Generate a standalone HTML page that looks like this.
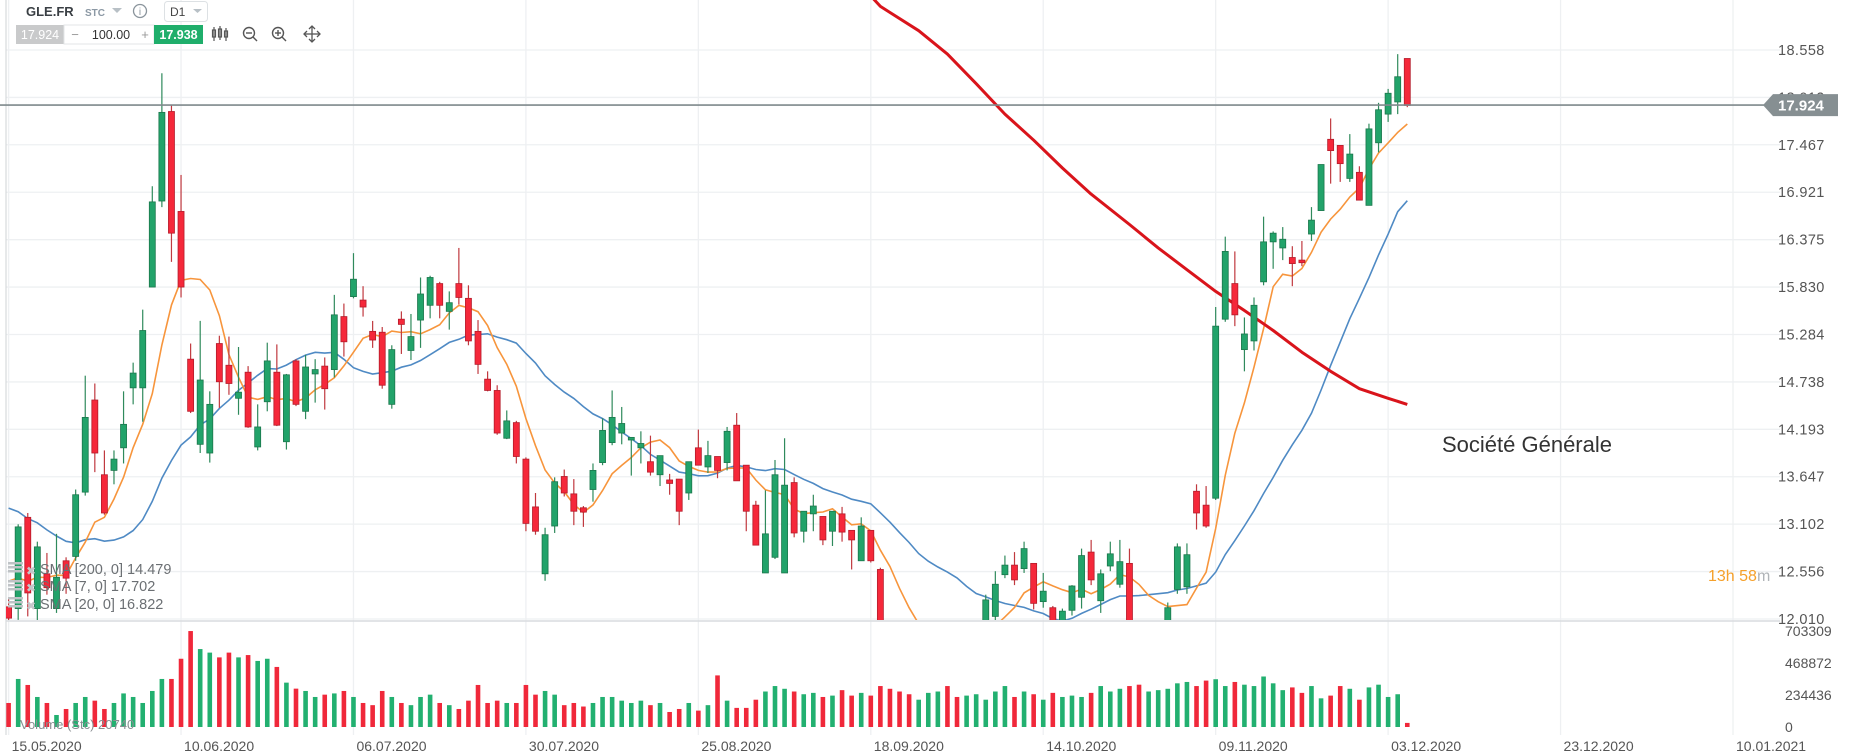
<!DOCTYPE html>
<html><head><meta charset="utf-8"><style>
html,body{margin:0;padding:0;background:#fff;width:1853px;height:756px;overflow:hidden}
svg{display:block;font-family:"Liberation Sans",sans-serif}
</style></head><body>
<svg id="c" width="1853" height="756" viewBox="0 0 1853 756">
<defs><clipPath id="pc"><rect x="6" y="0" width="1770" height="620"/></clipPath>
<clipPath id="vc"><rect x="6" y="622" width="1770" height="110"/></clipPath></defs>
<g id="grid"></g>
<line x1="6" y1="0" x2="6" y2="735" stroke="#cfd3d6"/>
<line x1="6" y1="621" x2="1780" y2="621" stroke="#d9dcdf" stroke-width="1.5"/>
<g id="vol" clip-path="url(#vc)"></g>
<g id="price" clip-path="url(#pc)"></g>
<g id="axes"></g>
<g>
 <text x="26" y="16" font-size="13" font-weight="bold" fill="#3a3f44">GLE.FR</text>
 <text x="85" y="16" font-size="10" font-weight="bold" fill="#8b98a4">STC</text>
 <path d="M112 8 L122 8 L117 13 Z" fill="#b8c0c6"/>
 <g><circle cx="140" cy="11" r="6.5" fill="none" stroke="#8a949c" stroke-width="1.3"/><text x="140" y="15" font-size="10" text-anchor="middle" fill="#8a949c">i</text></g>
 <g><rect x="164.5" y="1.5" width="43" height="20" rx="3" fill="#fff" stroke="#dde1e4"/><text x="170" y="16" font-size="12" fill="#444">D1</text><path d="M193 9 L202 9 L197.5 13 Z" fill="#b8c0c6"/></g>
 <g><rect x="16" y="25" width="48" height="19" fill="#c9cacb"/><text x="40" y="39" font-size="12.5" text-anchor="middle" fill="#fff">17.924</text></g>
 <g><rect x="64" y="25" width="90" height="19" fill="#fff" stroke="#e3e5e7"/><text x="75" y="39" font-size="13" text-anchor="middle" fill="#999">−</text><text x="111" y="39" font-size="12.5" text-anchor="middle" fill="#333">100.00</text><text x="145" y="39" font-size="13" text-anchor="middle" fill="#999">+</text></g>
 <g><rect x="154" y="25" width="49" height="19" fill="#1fae6b"/><text x="178.5" y="39" font-size="12.5" font-weight="bold" text-anchor="middle" fill="#fff">17.938</text></g>
 <g stroke="#555" stroke-width="1.2" fill="none"><line x1="214" y1="27" x2="214" y2="41"/><rect x="212.5" y="30" width="3" height="7"/><line x1="220" y1="26" x2="220" y2="40"/><rect x="218.5" y="29" width="3" height="8"/><line x1="226" y1="28" x2="226" y2="41"/><rect x="224.5" y="31" width="3" height="6"/></g>
 <g stroke="#555" stroke-width="1.4" fill="none"><circle cx="249" cy="33" r="5.5"/><line x1="253" y1="37" x2="257" y2="41"/><line x1="246" y1="33" x2="252" y2="33"/></g>
 <g stroke="#555" stroke-width="1.4" fill="none"><circle cx="278" cy="33" r="5.5"/><line x1="282" y1="37" x2="286" y2="41"/><line x1="275" y1="33" x2="281" y2="33"/><line x1="278" y1="30" x2="278" y2="36"/></g>
 <g stroke="#555" stroke-width="1.3" fill="none"><line x1="305" y1="34" x2="319" y2="34"/><line x1="312" y1="27" x2="312" y2="41"/><path d="M309 29 L312 26 L315 29 M309 39 L312 42 L315 39 M307 31 L304 34 L307 37 M317 31 L320 34 L317 37"/></g>
</g>
<g font-size="14.5" fill="#6b6f73">
 <g fill="#bfc3c6"><rect x="8" y="562" width="15" height="2.5"/><rect x="8" y="566" width="15" height="2.5"/><rect x="8" y="570" width="15" height="2.5"/><rect x="8" y="580" width="15" height="2.5"/><rect x="8" y="584" width="15" height="2.5"/><rect x="8" y="588" width="15" height="2.5"/><rect x="8" y="597" width="15" height="2.5"/><rect x="8" y="601" width="15" height="2.5"/><rect x="8" y="605" width="15" height="2.5"/></g>
 <text x="26" y="575" fill="#c4c7ca" font-size="12">✖</text><text x="26" y="592" fill="#c4c7ca" font-size="12">✖</text><text x="26" y="610" fill="#c4c7ca" font-size="12">✖</text>
 <text x="40" y="574">SMA [200, 0] 14.479</text>
 <text x="40" y="591">SMA [7, 0] 17.702</text>
 <text x="40" y="609">SMA [20, 0] 16.822</text>
</g>
<text x="20" y="729" font-size="13" fill="#8a8e92">Volume (Stc) 20740</text>
<text x="1442" y="452" font-size="22" fill="#333">Société Générale</text>
<text x="1708" y="581" font-size="16"><tspan fill="#f5a02a">13</tspan><tspan fill="#f5a02a">h </tspan><tspan fill="#f5a02a">58</tspan><tspan fill="#b0b4b8">m</tspan></text>
</svg>
<script>
const open=[12.15,12.13,13.18,12.13,12.53,12.13,12.68,12.73,13.47,14.53,13.67,13.72,13.98,14.67,14.67,15.83,16.82,17.85,16.70,15.00,14.02,13.92,15.18,14.93,14.55,14.85,13.99,14.51,14.85,14.05,14.98,14.40,14.83,14.92,14.88,15.49,15.72,15.68,15.32,15.31,14.48,15.46,15.10,15.45,15.62,15.87,15.55,15.87,15.70,15.32,14.77,14.64,14.09,14.27,13.85,13.30,12.53,13.08,13.65,13.45,13.29,13.50,13.81,14.04,14.15,14.07,13.98,13.82,13.67,13.61,13.62,13.46,13.98,13.76,13.88,13.81,14.24,13.78,13.32,12.54,12.72,12.54,13.58,13.02,13.22,13.19,13.02,13.22,13.03,12.68,13.03,12.58,11.75,11.60,11.50,11.45,11.62,11.85,11.90,11.70,11.65,11.72,11.92,12.04,12.52,12.63,12.59,12.65,12.21,12.14,11.90,12.11,12.26,12.78,12.22,12.62,12.41,12.65,11.90,11.80,11.85,11.95,12.35,12.38,13.48,13.32,13.40,15.46,15.87,15.11,15.21,15.89,16.35,16.28,16.17,16.14,16.44,16.71,17.53,17.46,17.08,17.15,16.77,17.49,17.82,17.96,18.46];
const high=[12.25,13.10,13.23,12.90,12.77,12.99,12.72,13.50,14.81,14.72,13.95,13.95,14.63,14.96,15.57,16.99,18.29,17.93,17.12,15.18,15.44,14.63,15.27,15.26,15.14,14.92,14.48,15.19,15.17,14.83,15.00,15.05,15.00,15.02,15.74,15.64,16.22,15.84,15.44,15.37,15.16,15.55,15.52,15.94,15.96,15.89,15.78,16.28,15.85,15.45,14.86,14.70,14.41,14.29,13.87,13.46,13.06,13.64,13.73,13.62,13.31,13.80,14.32,14.64,14.45,14.10,14.17,14.12,13.89,13.68,13.62,13.82,14.19,14.06,13.88,14.22,14.38,13.78,13.37,13.49,13.84,14.09,13.64,13.25,13.44,13.19,13.25,13.30,13.03,13.18,13.03,12.60,11.85,11.70,11.60,11.70,11.98,11.98,11.92,11.80,11.85,11.95,12.29,12.56,12.74,12.78,12.90,12.65,12.54,12.16,12.13,12.40,12.82,12.92,12.58,12.90,12.92,12.82,11.95,11.90,11.98,12.20,12.88,12.88,13.56,13.54,15.60,16.41,16.24,15.48,15.71,16.64,16.47,16.52,16.30,16.36,16.75,17.24,17.77,17.46,17.59,17.22,17.71,17.95,18.11,18.51,18.46];
const low=[11.95,12.00,12.04,11.98,12.29,12.08,12.30,12.68,13.43,13.70,13.21,13.56,13.80,14.48,14.28,15.83,16.75,16.12,15.71,14.38,13.92,13.81,14.44,14.59,14.36,14.21,13.95,14.40,14.23,13.96,14.46,14.31,14.50,14.42,14.79,15.03,15.70,15.49,15.13,14.66,14.43,15.06,14.99,15.13,15.47,15.47,15.34,15.63,15.16,14.83,14.63,14.13,14.08,13.80,13.02,12.98,12.45,13.00,13.42,13.09,13.07,13.36,13.78,14.01,14.02,13.66,13.80,13.66,13.54,13.44,13.09,13.38,13.78,13.69,13.63,13.72,13.60,13.02,12.86,12.54,12.70,12.54,12.95,12.89,13.02,12.86,12.85,12.90,12.58,12.68,12.66,11.70,11.50,11.40,11.30,11.40,11.55,11.70,11.60,11.55,11.60,11.70,11.88,11.98,12.48,12.40,12.54,12.12,12.14,11.80,11.85,12.05,12.13,12.40,12.08,12.56,12.37,11.80,11.70,11.65,11.80,11.90,12.30,12.30,13.04,13.06,13.38,15.43,15.38,14.86,15.10,15.85,16.04,16.14,15.84,16.07,16.36,16.71,17.02,17.04,17.04,16.83,16.77,17.38,17.73,17.82,17.90];
const close=[12.02,13.07,12.31,12.84,12.37,12.49,12.48,13.44,14.33,13.92,13.23,13.85,14.25,14.84,15.33,16.81,17.84,16.45,15.83,14.40,14.76,14.48,14.74,14.72,14.62,14.22,14.22,14.98,14.24,14.82,14.48,14.91,14.88,14.66,15.51,15.20,15.92,15.60,15.22,14.70,15.11,15.40,15.26,15.75,15.94,15.62,15.65,15.71,15.21,14.94,14.64,14.15,14.29,13.88,13.11,13.02,12.98,13.59,13.46,13.25,13.24,13.72,14.18,14.33,14.26,14.10,14.03,13.70,13.89,13.57,13.25,13.82,13.78,13.89,13.72,14.17,13.60,13.25,12.86,12.99,13.67,13.55,13.00,13.25,13.31,12.92,13.25,13.01,12.92,13.08,12.68,11.75,11.60,11.50,11.45,11.62,11.85,11.90,11.70,11.65,11.72,11.90,12.23,12.41,12.63,12.46,12.82,12.19,12.33,11.90,12.10,12.39,12.74,12.46,12.53,12.76,12.67,11.90,11.80,11.85,11.95,12.14,12.84,12.75,13.23,13.08,15.38,16.24,15.51,15.29,15.62,16.35,16.45,16.38,16.10,16.11,16.60,17.24,17.40,17.25,17.36,16.83,17.65,17.87,18.06,18.25,17.92];
const priorCloses=[13.9,13.9,13.8,14.0,13.9,13.7,13.8,13.6,13.7,13.8,13.6,13.5,13.4,12.8,12.6,12.5,12.4,12.3,12.5];
const volumeK=[176,352,308,220,176,88,132,176,220,193,132,176,246,220,176,264,352,352,500,703,571,545,510,545,510,527,484,500,440,325,281,264,220,237,246,264,220,176,160,264,220,176,160,220,237,176,160,132,193,308,176,193,176,176,308,237,264,237,160,176,150,176,220,220,193,176,193,160,176,110,132,176,120,160,378,193,140,140,200,260,300,280,260,240,250,220,230,270,230,250,230,300,280,260,240,200,250,260,300,220,230,240,200,260,300,220,260,240,200,250,220,230,220,250,300,260,280,300,310,260,270,280,320,330,300,340,350,300,330,310,300,370,320,270,290,250,300,210,230,300,280,200,290,310,220,240,30];
const sma200Idx=[89,91,95,98,101,104,107,110,113,117,120,123,126,129,132,135,138,141,144,146];
const sma200Val=[19.30,19.06,18.78,18.51,18.17,17.82,17.52,17.20,16.90,16.55,16.28,16.03,15.78,15.56,15.33,15.08,14.86,14.66,14.55,14.48];
const priceTicks=[18.558,18.012,17.467,16.921,16.375,15.830,15.284,14.738,14.193,13.647,13.102,12.556,12.010];
const volTicks=[703309,468872,234436,0];
const dateLabels=["15.05.2020","10.06.2020","06.07.2020","30.07.2020","25.08.2020","18.09.2020","14.10.2020","09.11.2020","03.12.2020","23.12.2020","10.01.2021"];
const lastPrice=17.924;

const NS="http://www.w3.org/2000/svg";
function xOf(i){return 8.6+9.58*i;}
function yP(p){return 619-(p-12.010)*86.9;}
function yV(v){return 727-v/703309*96;}
function mk(tag,attrs,parent){const e=document.createElementNS(NS,tag);for(const k in attrs)e.setAttribute(k,attrs[k]);parent.appendChild(e);return e;}
const grid=document.getElementById('grid'),axes=document.getElementById('axes'),price=document.getElementById('price'),vol=document.getElementById('vol');

priceTicks.forEach((t,k)=>{
 const l=mk('line',{x1:6,x2:1780,y1:yP(t),y2:yP(t),stroke:'#eef0f2','stroke-width':1.3},grid);
 
 
 const tx=mk('text',{x:1778,y:yP(t)+5,'font-size':14.5,fill:'#555','letter-spacing':'0.4'},axes);
 tx.textContent=t.toFixed(3);
 
 
});
volTicks.forEach(v=>{
 const tx=mk('text',{x:1785,y:yV(v)+5,'font-size':14,fill:'#555'},axes);
 tx.textContent=String(v);
 
 
});
dateLabels.forEach((d,k)=>{
 const gx=xOf(k*18);
 const l=mk('line',{x1:gx,x2:gx,y1:0,y2:735,stroke:'#eef0f2','stroke-width':1.3},grid);
 
 
 const tx=mk('text',{x:gx+3,y:751,'font-size':14,fill:'#555'},axes);
 tx.textContent=d;
 
 
});

volumeK.forEach((v,i)=>{
 const up=close[i]>=open[i];
 const y=yV(v*1000);
 const r=mk('rect',{x:xOf(i)-2.3,y:y,width:4.6,height:727-y,fill:up?'#22b070':'#f0283a'},vol);
 
 
});

const all=priorCloses.concat(close);
function sma(n){const out=[];for(let i=0;i<close.length;i++){const j=i+priorCloses.length;let s=0,c=0;for(let k=Math.max(0,j-n+1);k<=j;k++){s+=all[k];c++;}out.push(s/c);}return out;}
function pathOf(vals,idx){return vals.map((v,k)=>(k?'L':'M')+xOf(idx?idx[k]:k).toFixed(1)+' '+yP(v).toFixed(1)).join(' ');}
const s20=mk('path',{d:pathOf(sma(20)),fill:'none',stroke:'#4f8ac4','stroke-width':1.6},price);


const s7=mk('path',{d:pathOf(sma(7)),fill:'none',stroke:'#f7953c','stroke-width':1.6},price);


const s200=mk('path',{d:pathOf(sma200Val,sma200Idx),fill:'none',stroke:'#d9141b','stroke-width':3,'stroke-linejoin':'round'},price);



close.forEach((c,i)=>{
 const up=c>=open[i];
 const x=xOf(i);
 const g=mk('g',{},price);
 
 
 mk('line',{x1:x,x2:x,y1:yP(high[i]),y2:yP(low[i]),stroke:up?'#2f8a5c':'#c0393f','stroke-width':1.2},g);
 const t=yP(Math.max(c,open[i])),b=yP(Math.min(c,open[i]));
 mk('rect',{x:x-3,y:t,width:6,height:Math.max(1.5,b-t),fill:up?'#22a36a':'#f5283a',stroke:up?'#1b774c':'#b51c2b','stroke-width':0.8},g);
});

const ly=yP(lastPrice);
const pl=mk('line',{x1:0,x2:1765,y1:ly,y2:ly,stroke:'#7f898c','stroke-width':1.6},axes);


const fg=mk('g',{},axes);


mk('path',{d:`M1763 ${ly} L1773 ${ly-11} L1838 ${ly-11} L1838 ${ly+11} L1773 ${ly+11} Z`,fill:'#868f92'},fg);
const ft=mk('text',{x:1778,y:ly+5.5,'font-size':15,'font-weight':'bold',fill:'#fff'},fg);
ft.textContent=lastPrice.toFixed(3);
</script>
</body></html>
